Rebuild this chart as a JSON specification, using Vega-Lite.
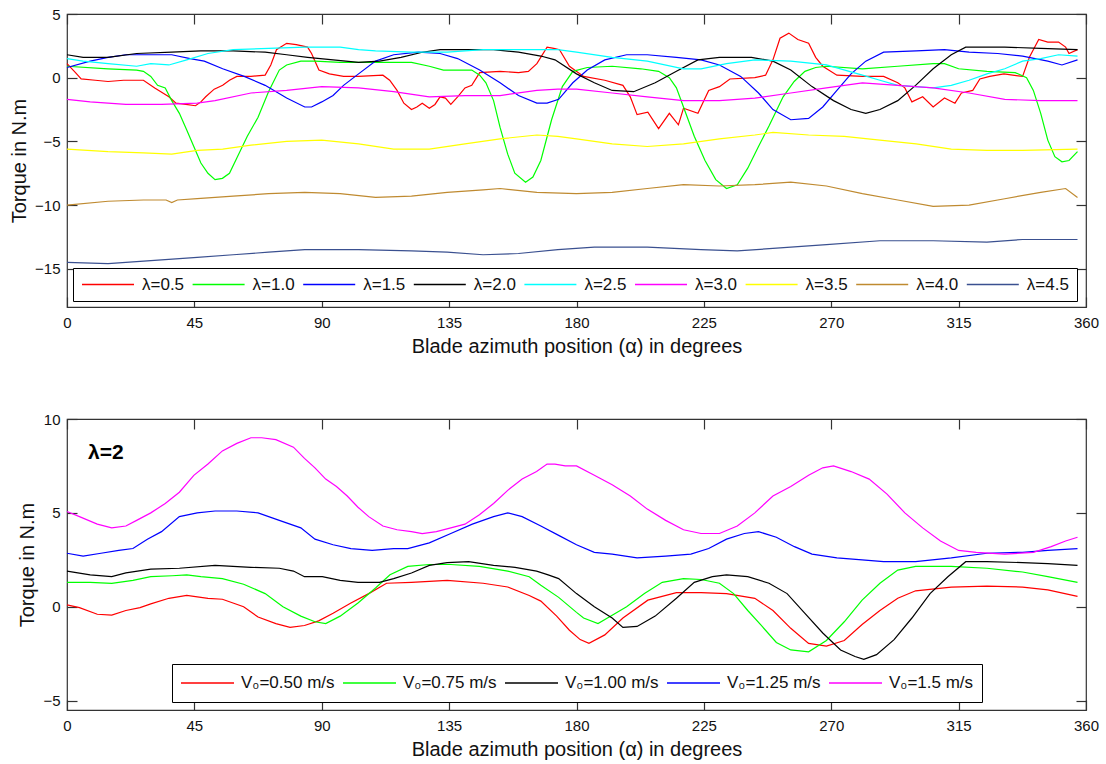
{
"$schema": "https://vega.github.io/schema/vega-lite/v6.json",
"padding": {"left": 8, "top": 6, "right": 5, "bottom": 5},
"spacing": 54,
"resolve": {"scale": {"color": "independent"}, "legend": {"color": "independent"}},
"config": {
  "font": "Liberation Sans",
  "view": {"stroke": "#333", "strokeWidth": 1.2},
  "axis": {"grid": false, "domain": false, "tickColor": "#333", "tickSize": -10, "tickWidth": 1.2,
           "labelFontSize": 15, "labelColor": "#111", "labelFont": "Liberation Sans", "labelFlush": false, "labelOverlap": false,
           "titleFontSize": 20, "titleFontWeight": "normal", "titleColor": "#111", "titleFont": "Liberation Sans"},
  "axisX": {"labelPadding": 18, "titlePadding": 6},
  "axisY": {"labelPadding": 17, "titlePadding": 5},
  "legend": {"labelFont": "Liberation Sans", "labelColor": "#111"}
},
"datasets": {
"top": [
{"series":"λ=0.5","angle":0,"torque":1.1},{"series":"λ=0.5","angle":3,"torque":0.4},{"series":"λ=0.5","angle":5,"torque":-0.1},{"series":"λ=0.5","angle":10,"torque":-0.2},{"series":"λ=0.5","angle":14.5,"torque":-0.3},{"series":"λ=0.5","angle":20,"torque":-0.2},{"series":"λ=0.5","angle":27,"torque":-0.2},{"series":"λ=0.5","angle":31,"torque":-0.8},{"series":"λ=0.5","angle":36,"torque":-1.5},{"series":"λ=0.5","angle":38.5,"torque":-2.0},{"series":"λ=0.5","angle":42,"torque":-2.1},{"series":"λ=0.5","angle":45.4,"torque":-2.2},{"series":"λ=0.5","angle":47.3,"torque":-1.9},{"series":"λ=0.5","angle":49,"torque":-1.5},{"series":"λ=0.5","angle":52,"torque":-0.9},{"series":"λ=0.5","angle":55,"torque":-0.6},{"series":"λ=0.5","angle":57.4,"torque":-0.2},{"series":"λ=0.5","angle":60,"torque":0.1},{"series":"λ=0.5","angle":65,"torque":0.1},{"series":"λ=0.5","angle":70,"torque":0.2},{"series":"λ=0.5","angle":72,"torque":1.0},{"series":"λ=0.5","angle":74,"torque":2.2},{"series":"λ=0.5","angle":77.6,"torque":2.7},{"series":"λ=0.5","angle":81,"torque":2.6},{"series":"λ=0.5","angle":85,"torque":2.4},{"series":"λ=0.5","angle":86.4,"torque":1.9},{"series":"λ=0.5","angle":89,"torque":0.6},{"series":"λ=0.5","angle":92.7,"torque":0.3},{"series":"λ=0.5","angle":97.7,"torque":0.1},{"series":"λ=0.5","angle":103,"torque":0.1},{"series":"λ=0.5","angle":111.6,"torque":0.2},{"series":"λ=0.5","angle":114,"torque":-0.2},{"series":"λ=0.5","angle":116.6,"torque":-1.0},{"series":"λ=0.5","angle":119,"torque":-2.0},{"series":"λ=0.5","angle":121.7,"torque":-2.5},{"series":"λ=0.5","angle":123.6,"torque":-2.3},{"series":"λ=0.5","angle":125.5,"torque":-2.0},{"series":"λ=0.5","angle":128,"torque":-2.4},{"series":"λ=0.5","angle":130,"torque":-2.1},{"series":"λ=0.5","angle":131.8,"torque":-1.5},{"series":"λ=0.5","angle":133.7,"torque":-1.6},{"series":"λ=0.5","angle":135.6,"torque":-2.1},{"series":"λ=0.5","angle":138,"torque":-1.5},{"series":"λ=0.5","angle":140.6,"torque":-0.8},{"series":"λ=0.5","angle":143,"torque":-0.6},{"series":"λ=0.5","angle":145.8,"torque":0.4},{"series":"λ=0.5","angle":153,"torque":0.5},{"series":"λ=0.5","angle":159.5,"torque":0.4},{"series":"λ=0.5","angle":163,"torque":0.5},{"series":"λ=0.5","angle":166,"torque":1.1},{"series":"λ=0.5","angle":169.6,"torque":2.4},{"series":"λ=0.5","angle":172,"torque":2.3},{"series":"λ=0.5","angle":174,"torque":2.2},{"series":"λ=0.5","angle":177.5,"torque":0.9},{"series":"λ=0.5","angle":182.5,"torque":0.1},{"series":"λ=0.5","angle":190,"torque":-0.2},{"series":"λ=0.5","angle":196.4,"torque":-0.6},{"series":"λ=0.5","angle":199,"torque":-1.5},{"series":"λ=0.5","angle":201.4,"torque":-2.9},{"series":"λ=0.5","angle":205.2,"torque":-2.7},{"series":"λ=0.5","angle":209,"torque":-4.0},{"series":"λ=0.5","angle":212.8,"torque":-2.8},{"series":"λ=0.5","angle":216,"torque":-3.7},{"series":"λ=0.5","angle":217.8,"torque":-2.4},{"series":"λ=0.5","angle":222.9,"torque":-2.8},{"series":"λ=0.5","angle":226.7,"torque":-1.0},{"series":"λ=0.5","angle":230.5,"torque":-0.7},{"series":"λ=0.5","angle":234.2,"torque":-0.1},{"series":"λ=0.5","angle":243,"torque":0},{"series":"λ=0.5","angle":246.8,"torque":0.2},{"series":"λ=0.5","angle":249.4,"torque":1.4},{"series":"λ=0.5","angle":251.9,"torque":3.1},{"series":"λ=0.5","angle":255,"torque":3.5},{"series":"λ=0.5","angle":258.2,"torque":3.0},{"series":"λ=0.5","angle":262,"torque":2.7},{"series":"λ=0.5","angle":264.5,"torque":1.6},{"series":"λ=0.5","angle":267,"torque":0.9},{"series":"λ=0.5","angle":272,"torque":0.2},{"series":"λ=0.5","angle":281,"torque":0.1},{"series":"λ=0.5","angle":288.5,"torque":0.1},{"series":"λ=0.5","angle":293.5,"torque":-0.4},{"series":"λ=0.5","angle":296,"torque":-0.8},{"series":"λ=0.5","angle":298.5,"torque":-1.9},{"series":"λ=0.5","angle":302.3,"torque":-1.5},{"series":"λ=0.5","angle":306,"torque":-2.3},{"series":"λ=0.5","angle":310,"torque":-1.6},{"series":"λ=0.5","angle":313.7,"torque":-2.0},{"series":"λ=0.5","angle":316,"torque":-1.2},{"series":"λ=0.5","angle":320,"torque":-1.0},{"series":"λ=0.5","angle":322.5,"torque":-0.1},{"series":"λ=0.5","angle":326,"torque":0.1},{"series":"λ=0.5","angle":331,"torque":0.3},{"series":"λ=0.5","angle":337.6,"torque":0.1},{"series":"λ=0.5","angle":340,"torque":1.6},{"series":"λ=0.5","angle":343.3,"torque":3.0},{"series":"λ=0.5","angle":346.5,"torque":2.8},{"series":"λ=0.5","angle":350.3,"torque":2.8},{"series":"λ=0.5","angle":352.8,"torque":2.4},{"series":"λ=0.5","angle":354,"torque":1.9},{"series":"λ=0.5","angle":357,"torque":2.2},
{"series":"λ=1.0","angle":0,"torque":0.9},{"series":"λ=1.0","angle":14.5,"torque":0.7},{"series":"λ=1.0","angle":24.6,"torque":0.6},{"series":"λ=1.0","angle":27,"torque":0.5},{"series":"λ=1.0","angle":29.6,"torque":0.1},{"series":"λ=1.0","angle":32,"torque":-0.6},{"series":"λ=1.0","angle":34.7,"torque":-0.8},{"series":"λ=1.0","angle":37,"torque":-1.8},{"series":"λ=1.0","angle":39.7,"torque":-2.8},{"series":"λ=1.0","angle":42.3,"torque":-4.1},{"series":"λ=1.0","angle":44.8,"torque":-5.4},{"series":"λ=1.0","angle":47.3,"torque":-6.7},{"series":"λ=1.0","angle":49.8,"torque":-7.5},{"series":"λ=1.0","angle":52.3,"torque":-8.0},{"series":"λ=1.0","angle":54.9,"torque":-7.9},{"series":"λ=1.0","angle":57.4,"torque":-7.5},{"series":"λ=1.0","angle":60,"torque":-6.3},{"series":"λ=1.0","angle":63.7,"torque":-4.6},{"series":"λ=1.0","angle":67.5,"torque":-3.1},{"series":"λ=1.0","angle":71.2,"torque":-1.1},{"series":"λ=1.0","angle":75,"torque":0.6},{"series":"λ=1.0","angle":77.6,"torque":1.0},{"series":"λ=1.0","angle":82.6,"torque":1.3},{"series":"λ=1.0","angle":87.6,"torque":1.3},{"series":"λ=1.0","angle":96.5,"torque":1.2},{"series":"λ=1.0","angle":109,"torque":1.2},{"series":"λ=1.0","angle":121.7,"torque":1.2},{"series":"λ=1.0","angle":128,"torque":0.9},{"series":"λ=1.0","angle":133,"torque":0.6},{"series":"λ=1.0","angle":143,"torque":0.6},{"series":"λ=1.0","angle":145.8,"torque":0.2},{"series":"λ=1.0","angle":148,"torque":-0.4},{"series":"λ=1.0","angle":150.7,"torque":-1.8},{"series":"λ=1.0","angle":153,"torque":-3.9},{"series":"λ=1.0","angle":155.7,"torque":-6.0},{"series":"λ=1.0","angle":158.2,"torque":-7.5},{"series":"λ=1.0","angle":162,"torque":-8.2},{"series":"λ=1.0","angle":164.6,"torque":-7.8},{"series":"λ=1.0","angle":167.4,"torque":-6.5},{"series":"λ=1.0","angle":171.2,"torque":-3.3},{"series":"λ=1.0","angle":175,"torque":-0.7},{"series":"λ=1.0","angle":178.7,"torque":0.5},{"series":"λ=1.0","angle":183.8,"torque":0.8},{"series":"λ=1.0","angle":192.6,"torque":0.9},{"series":"λ=1.0","angle":202.7,"torque":0.7},{"series":"λ=1.0","angle":209,"torque":0.5},{"series":"λ=1.0","angle":212.8,"torque":0},{"series":"λ=1.0","angle":215.3,"torque":-0.8},{"series":"λ=1.0","angle":217.8,"torque":-2.3},{"series":"λ=1.0","angle":221.6,"torque":-4.6},{"series":"λ=1.0","angle":225.4,"torque":-6.5},{"series":"λ=1.0","angle":229.2,"torque":-8.0},{"series":"λ=1.0","angle":233,"torque":-8.7},{"series":"λ=1.0","angle":236.8,"torque":-8.4},{"series":"λ=1.0","angle":240.5,"torque":-7.1},{"series":"λ=1.0","angle":244.3,"torque":-5.4},{"series":"λ=1.0","angle":248,"torque":-3.8},{"series":"λ=1.0","angle":253,"torque":-1.5},{"series":"λ=1.0","angle":256.9,"torque":-0.3},{"series":"λ=1.0","angle":260.7,"torque":0.5},{"series":"λ=1.0","angle":264.5,"torque":0.8},{"series":"λ=1.0","angle":268.3,"torque":0.9},{"series":"λ=1.0","angle":281,"torque":0.7},{"series":"λ=1.0","angle":293.5,"torque":0.9},{"series":"λ=1.0","angle":306,"torque":1.1},{"series":"λ=1.0","angle":310,"torque":1.1},{"series":"λ=1.0","angle":315,"torque":0.7},{"series":"λ=1.0","angle":325,"torque":0.5},{"series":"λ=1.0","angle":335,"torque":0.4},{"series":"λ=1.0","angle":339,"torque":0},{"series":"λ=1.0","angle":341.4,"torque":-1.0},{"series":"λ=1.0","angle":344,"torque":-2.8},{"series":"λ=1.0","angle":346.5,"torque":-4.9},{"series":"λ=1.0","angle":349,"torque":-6.2},{"series":"λ=1.0","angle":351.5,"torque":-6.6},{"series":"λ=1.0","angle":354,"torque":-6.5},{"series":"λ=1.0","angle":357,"torque":-5.8},
{"series":"λ=1.5","angle":0,"torque":0.8},{"series":"λ=1.5","angle":8.2,"torque":1.3},{"series":"λ=1.5","angle":14.5,"torque":1.6},{"series":"λ=1.5","angle":20.8,"torque":1.8},{"series":"λ=1.5","angle":29.6,"torque":1.8},{"series":"λ=1.5","angle":37,"torque":1.8},{"series":"λ=1.5","angle":43.5,"torque":1.5},{"series":"λ=1.5","angle":48.5,"torque":1.3},{"series":"λ=1.5","angle":55,"torque":0.7},{"series":"λ=1.5","angle":62.6,"torque":0.1},{"series":"λ=1.5","angle":70,"torque":-0.6},{"series":"λ=1.5","angle":77.6,"torque":-1.6},{"series":"λ=1.5","angle":84,"torque":-2.3},{"series":"λ=1.5","angle":86.4,"torque":-2.3},{"series":"λ=1.5","angle":90,"torque":-1.9},{"series":"λ=1.5","angle":94,"torque":-1.4},{"series":"λ=1.5","angle":97.7,"torque":-0.6},{"series":"λ=1.5","angle":103,"torque":0.3},{"series":"λ=1.5","angle":109,"torque":1.3},{"series":"λ=1.5","angle":115.4,"torque":1.8},{"series":"λ=1.5","angle":124.2,"torque":2.0},{"series":"λ=1.5","angle":131.8,"torque":1.9},{"series":"λ=1.5","angle":138,"torque":1.5},{"series":"λ=1.5","angle":145.8,"torque":0.6},{"series":"λ=1.5","angle":153,"torque":-0.4},{"series":"λ=1.5","angle":159.5,"torque":-1.4},{"series":"λ=1.5","angle":166,"torque":-2.0},{"series":"λ=1.5","angle":169.6,"torque":-2.0},{"series":"λ=1.5","angle":173.7,"torque":-1.7},{"series":"λ=1.5","angle":178.7,"torque":-0.4},{"series":"λ=1.5","angle":183.8,"torque":0.6},{"series":"λ=1.5","angle":190,"torque":1.4},{"series":"λ=1.5","angle":197.7,"torque":1.8},{"series":"λ=1.5","angle":205,"torque":1.8},{"series":"λ=1.5","angle":215.3,"torque":1.6},{"series":"λ=1.5","angle":224,"torque":1.4},{"series":"λ=1.5","angle":230.5,"torque":1.0},{"series":"λ=1.5","angle":238,"torque":0.1},{"series":"λ=1.5","angle":244.3,"torque":-1.2},{"series":"λ=1.5","angle":249.4,"torque":-2.5},{"series":"λ=1.5","angle":255.7,"torque":-3.3},{"series":"λ=1.5","angle":262,"torque":-3.2},{"series":"λ=1.5","angle":267,"torque":-2.3},{"series":"λ=1.5","angle":272,"torque":-1.0},{"series":"λ=1.5","angle":277,"torque":0.3},{"series":"λ=1.5","angle":282.2,"torque":1.3},{"series":"λ=1.5","angle":288.5,"torque":2.0},{"series":"λ=1.5","angle":300,"torque":2.1},{"series":"λ=1.5","angle":310,"torque":2.2},{"series":"λ=1.5","angle":318.7,"torque":2.0},{"series":"λ=1.5","angle":328.8,"torque":1.9},{"series":"λ=1.5","angle":337.6,"torque":1.7},{"series":"λ=1.5","angle":346.5,"torque":1.3},{"series":"λ=1.5","angle":351.5,"torque":1.0},{"series":"λ=1.5","angle":357,"torque":1.4},
{"series":"λ=2.0","angle":0,"torque":1.8},{"series":"λ=2.0","angle":5.7,"torque":1.6},{"series":"λ=2.0","angle":14.5,"torque":1.6},{"series":"λ=2.0","angle":24.6,"torque":1.9},{"series":"λ=2.0","angle":37,"torque":2.0},{"series":"λ=2.0","angle":47.3,"torque":2.1},{"series":"λ=2.0","angle":58.7,"torque":2.1},{"series":"λ=2.0","angle":70,"torque":2.0},{"series":"λ=2.0","angle":77.6,"torque":1.8},{"series":"λ=2.0","angle":85,"torque":1.6},{"series":"λ=2.0","angle":94,"torque":1.4},{"series":"λ=2.0","angle":103,"torque":1.2},{"series":"λ=2.0","angle":110.4,"torque":1.3},{"series":"λ=2.0","angle":118,"torque":1.6},{"series":"λ=2.0","angle":125.5,"torque":2.0},{"series":"λ=2.0","angle":131.8,"torque":2.2},{"series":"λ=2.0","angle":140.6,"torque":2.2},{"series":"λ=2.0","angle":150.7,"torque":2.2},{"series":"λ=2.0","angle":159.5,"torque":2.0},{"series":"λ=2.0","angle":167.4,"torque":1.7},{"series":"λ=2.0","angle":172.4,"torque":1.4},{"series":"λ=2.0","angle":180,"torque":0.3},{"series":"λ=2.0","angle":186.3,"torque":-0.4},{"series":"λ=2.0","angle":192.6,"torque":-1.0},{"series":"λ=2.0","angle":200.2,"torque":-1.1},{"series":"λ=2.0","angle":207.8,"torque":-0.4},{"series":"λ=2.0","angle":215.3,"torque":0.5},{"series":"λ=2.0","angle":222.9,"torque":1.4},{"series":"λ=2.0","angle":230.5,"torque":1.6},{"series":"λ=2.0","angle":241.8,"torque":1.6},{"series":"λ=2.0","angle":249.4,"torque":1.3},{"series":"λ=2.0","angle":255.7,"torque":0.6},{"series":"λ=2.0","angle":263.2,"torque":-0.7},{"series":"λ=2.0","angle":270.8,"torque":-1.8},{"series":"λ=2.0","angle":277,"torque":-2.5},{"series":"λ=2.0","angle":282.2,"torque":-2.8},{"series":"λ=2.0","angle":287.2,"torque":-2.5},{"series":"λ=2.0","angle":293.5,"torque":-1.8},{"series":"λ=2.0","angle":299.8,"torque":-0.6},{"series":"λ=2.0","angle":306,"torque":0.7},{"series":"λ=2.0","angle":312.4,"torque":1.8},{"series":"λ=2.0","angle":317.5,"torque":2.4},{"series":"λ=2.0","angle":325,"torque":2.4},{"series":"λ=2.0","angle":331.3,"torque":2.4},{"series":"λ=2.0","angle":344,"torque":2.3},{"series":"λ=2.0","angle":357,"torque":2.2},
{"series":"λ=2.5","angle":0,"torque":1.5},{"series":"λ=2.5","angle":5.7,"torque":1.3},{"series":"λ=2.5","angle":14.5,"torque":1.1},{"series":"λ=2.5","angle":24.6,"torque":0.9},{"series":"λ=2.5","angle":29.6,"torque":1.1},{"series":"λ=2.5","angle":36,"torque":1.0},{"series":"λ=2.5","angle":42.3,"torque":1.4},{"series":"λ=2.5","angle":49.8,"torque":1.9},{"series":"λ=2.5","angle":58.7,"torque":2.2},{"series":"λ=2.5","angle":71.2,"torque":2.3},{"series":"λ=2.5","angle":84,"torque":2.4},{"series":"λ=2.5","angle":96.5,"torque":2.4},{"series":"λ=2.5","angle":103,"torque":2.2},{"series":"λ=2.5","angle":109,"torque":2.1},{"series":"λ=2.5","angle":121.7,"torque":2.0},{"series":"λ=2.5","angle":134.3,"torque":2.0},{"series":"λ=2.5","angle":147,"torque":2.2},{"series":"λ=2.5","angle":159.5,"torque":2.2},{"series":"λ=2.5","angle":173.4,"torque":2.2},{"series":"λ=2.5","angle":180,"torque":2.0},{"series":"λ=2.5","angle":192.6,"torque":1.6},{"series":"λ=2.5","angle":205,"torque":1.3},{"series":"λ=2.5","angle":217.8,"torque":0.7},{"series":"λ=2.5","angle":224,"torque":0.7},{"series":"λ=2.5","angle":233,"torque":1.1},{"series":"λ=2.5","angle":243,"torque":1.4},{"series":"λ=2.5","angle":255.7,"torque":1.3},{"series":"λ=2.5","angle":268.3,"torque":1.0},{"series":"λ=2.5","angle":281,"torque":0.2},{"series":"λ=2.5","angle":287.2,"torque":-0.2},{"series":"λ=2.5","angle":293.5,"torque":-0.6},{"series":"λ=2.5","angle":306,"torque":-0.8},{"series":"λ=2.5","angle":312.4,"torque":-0.6},{"series":"λ=2.5","angle":318.7,"torque":-0.2},{"series":"λ=2.5","angle":325,"torque":0.3},{"series":"λ=2.5","angle":331.3,"torque":0.7},{"series":"λ=2.5","angle":337.6,"torque":1.3},{"series":"λ=2.5","angle":344,"torque":1.5},{"series":"λ=2.5","angle":350.3,"torque":1.8},{"series":"λ=2.5","angle":357,"torque":1.7},
{"series":"λ=3.0","angle":0,"torque":-1.7},{"series":"λ=3.0","angle":8.2,"torque":-1.9},{"series":"λ=3.0","angle":20.8,"torque":-2.1},{"series":"λ=3.0","angle":33.4,"torque":-2.1},{"series":"λ=3.0","angle":46,"torque":-2.0},{"series":"λ=3.0","angle":52.3,"torque":-1.8},{"series":"λ=3.0","angle":65,"torque":-1.2},{"series":"λ=3.0","angle":77.6,"torque":-1.0},{"series":"λ=3.0","angle":90,"torque":-0.7},{"series":"λ=3.0","angle":103,"torque":-0.8},{"series":"λ=3.0","angle":115.4,"torque":-1.1},{"series":"λ=3.0","angle":128,"torque":-1.5},{"series":"λ=3.0","angle":140.6,"torque":-1.4},{"series":"λ=3.0","angle":153,"torque":-1.4},{"series":"λ=3.0","angle":166,"torque":-1.0},{"series":"λ=3.0","angle":173.4,"torque":-0.9},{"series":"λ=3.0","angle":180,"torque":-0.9},{"series":"λ=3.0","angle":192.6,"torque":-1.2},{"series":"λ=3.0","angle":205,"torque":-1.5},{"series":"λ=3.0","angle":217.8,"torque":-1.8},{"series":"λ=3.0","angle":230.5,"torque":-1.8},{"series":"λ=3.0","angle":243,"torque":-1.6},{"series":"λ=3.0","angle":255.7,"torque":-1.2},{"series":"λ=3.0","angle":268.3,"torque":-0.8},{"series":"λ=3.0","angle":281,"torque":-0.4},{"series":"λ=3.0","angle":293.5,"torque":-0.6},{"series":"λ=3.0","angle":306,"torque":-0.8},{"series":"λ=3.0","angle":318.7,"torque":-1.2},{"series":"λ=3.0","angle":331.3,"torque":-1.7},{"series":"λ=3.0","angle":344,"torque":-1.8},{"series":"λ=3.0","angle":357,"torque":-1.8},
{"series":"λ=3.5","angle":0,"torque":-5.6},{"series":"λ=3.5","angle":14.5,"torque":-5.8},{"series":"λ=3.5","angle":27,"torque":-5.9},{"series":"λ=3.5","angle":37,"torque":-6.0},{"series":"λ=3.5","angle":46,"torque":-5.7},{"series":"λ=3.5","angle":55,"torque":-5.6},{"series":"λ=3.5","angle":65,"torque":-5.3},{"series":"λ=3.5","angle":77.6,"torque":-5.0},{"series":"λ=3.5","angle":90,"torque":-4.9},{"series":"λ=3.5","angle":103,"torque":-5.2},{"series":"λ=3.5","angle":115.4,"torque":-5.6},{"series":"λ=3.5","angle":128,"torque":-5.6},{"series":"λ=3.5","angle":140.6,"torque":-5.2},{"series":"λ=3.5","angle":153,"torque":-4.8},{"series":"λ=3.5","angle":166,"torque":-4.5},{"series":"λ=3.5","angle":173.4,"torque":-4.6},{"series":"λ=3.5","angle":180,"torque":-4.8},{"series":"λ=3.5","angle":192.6,"torque":-5.2},{"series":"λ=3.5","angle":205,"torque":-5.4},{"series":"λ=3.5","angle":217.8,"torque":-5.2},{"series":"λ=3.5","angle":230.5,"torque":-4.8},{"series":"λ=3.5","angle":243,"torque":-4.5},{"series":"λ=3.5","angle":249.4,"torque":-4.3},{"series":"λ=3.5","angle":262,"torque":-4.5},{"series":"λ=3.5","angle":274.6,"torque":-4.6},{"series":"λ=3.5","angle":287.2,"torque":-4.9},{"series":"λ=3.5","angle":300,"torque":-5.2},{"series":"λ=3.5","angle":312.4,"torque":-5.6},{"series":"λ=3.5","angle":325,"torque":-5.7},{"series":"λ=3.5","angle":337.6,"torque":-5.7},{"series":"λ=3.5","angle":357,"torque":-5.6},
{"series":"λ=4.0","angle":0,"torque":-10.0},{"series":"λ=4.0","angle":14.5,"torque":-9.7},{"series":"λ=4.0","angle":27,"torque":-9.6},{"series":"λ=4.0","angle":35,"torque":-9.6},{"series":"λ=4.0","angle":37,"torque":-9.8},{"series":"λ=4.0","angle":39,"torque":-9.6},{"series":"λ=4.0","angle":46,"torque":-9.5},{"series":"λ=4.0","angle":58.7,"torque":-9.3},{"series":"λ=4.0","angle":71.2,"torque":-9.1},{"series":"λ=4.0","angle":84,"torque":-9.0},{"series":"λ=4.0","angle":96.5,"torque":-9.1},{"series":"λ=4.0","angle":109,"torque":-9.4},{"series":"λ=4.0","angle":121.7,"torque":-9.3},{"series":"λ=4.0","angle":134.3,"torque":-9.0},{"series":"λ=4.0","angle":147,"torque":-8.8},{"series":"λ=4.0","angle":153,"torque":-8.7},{"series":"λ=4.0","angle":166,"torque":-9.0},{"series":"λ=4.0","angle":180,"torque":-9.1},{"series":"λ=4.0","angle":192.6,"torque":-9.0},{"series":"λ=4.0","angle":205,"torque":-8.7},{"series":"λ=4.0","angle":217.8,"torque":-8.4},{"series":"λ=4.0","angle":230.5,"torque":-8.5},{"series":"λ=4.0","angle":243,"torque":-8.4},{"series":"λ=4.0","angle":255.7,"torque":-8.2},{"series":"λ=4.0","angle":268.3,"torque":-8.5},{"series":"λ=4.0","angle":281,"torque":-9.1},{"series":"λ=4.0","angle":293.5,"torque":-9.6},{"series":"λ=4.0","angle":306,"torque":-10.1},{"series":"λ=4.0","angle":318.7,"torque":-10.0},{"series":"λ=4.0","angle":331.3,"torque":-9.5},{"series":"λ=4.0","angle":344,"torque":-9.0},{"series":"λ=4.0","angle":352.8,"torque":-8.7},{"series":"λ=4.0","angle":357,"torque":-9.4},
{"series":"λ=4.5","angle":0,"torque":-14.5},{"series":"λ=4.5","angle":14.5,"torque":-14.6},{"series":"λ=4.5","angle":33.4,"torque":-14.3},{"series":"λ=4.5","angle":46,"torque":-14.1},{"series":"λ=4.5","angle":58.7,"torque":-13.9},{"series":"λ=4.5","angle":71.2,"torque":-13.7},{"series":"λ=4.5","angle":84,"torque":-13.5},{"series":"λ=4.5","angle":103,"torque":-13.5},{"series":"λ=4.5","angle":121.7,"torque":-13.6},{"series":"λ=4.5","angle":134.3,"torque":-13.7},{"series":"λ=4.5","angle":147,"torque":-13.9},{"series":"λ=4.5","angle":159.5,"torque":-13.8},{"series":"λ=4.5","angle":173.4,"torque":-13.5},{"series":"λ=4.5","angle":186.3,"torque":-13.3},{"series":"λ=4.5","angle":205,"torque":-13.3},{"series":"λ=4.5","angle":224,"torque":-13.5},{"series":"λ=4.5","angle":236.8,"torque":-13.6},{"series":"λ=4.5","angle":249.4,"torque":-13.4},{"series":"λ=4.5","angle":268.3,"torque":-13.1},{"series":"λ=4.5","angle":287.2,"torque":-12.8},{"series":"λ=4.5","angle":306,"torque":-12.8},{"series":"λ=4.5","angle":325,"torque":-12.9},{"series":"λ=4.5","angle":337.6,"torque":-12.7},{"series":"λ=4.5","angle":357,"torque":-12.7}
],
"bottom": [
{"series":"V₀=0.50 m/s","angle":0,"torque":0.1},{"series":"V₀=0.50 m/s","angle":4.4,"torque":-0.05},{"series":"V₀=0.50 m/s","angle":10.7,"torque":-0.4},{"series":"V₀=0.50 m/s","angle":15.8,"torque":-0.45},{"series":"V₀=0.50 m/s","angle":20.8,"torque":-0.2},{"series":"V₀=0.50 m/s","angle":25.8,"torque":-0.05},{"series":"V₀=0.50 m/s","angle":29.6,"torque":0.15},{"series":"V₀=0.50 m/s","angle":36,"torque":0.45},{"series":"V₀=0.50 m/s","angle":42.3,"torque":0.6},{"series":"V₀=0.50 m/s","angle":49.8,"torque":0.45},{"series":"V₀=0.50 m/s","angle":54.9,"torque":0.4},{"series":"V₀=0.50 m/s","angle":62.4,"torque":0},{"series":"V₀=0.50 m/s","angle":67.5,"torque":-0.55},{"series":"V₀=0.50 m/s","angle":73.8,"torque":-0.9},{"series":"V₀=0.50 m/s","angle":78.8,"torque":-1.1},{"series":"V₀=0.50 m/s","angle":83.9,"torque":-1.0},{"series":"V₀=0.50 m/s","angle":88.9,"torque":-0.75},{"series":"V₀=0.50 m/s","angle":94,"torque":-0.35},{"series":"V₀=0.50 m/s","angle":100.3,"torque":0.2},{"series":"V₀=0.50 m/s","angle":106.6,"torque":0.7},{"series":"V₀=0.50 m/s","angle":112.9,"torque":1.25},{"series":"V₀=0.50 m/s","angle":121.7,"torque":1.3},{"series":"V₀=0.50 m/s","angle":134.3,"torque":1.4},{"series":"V₀=0.50 m/s","angle":147,"torque":1.25},{"series":"V₀=0.50 m/s","angle":155.7,"torque":1.05},{"series":"V₀=0.50 m/s","angle":163.3,"torque":0.6},{"series":"V₀=0.50 m/s","angle":167.4,"torque":0.3},{"series":"V₀=0.50 m/s","angle":173,"torque":-0.5},{"series":"V₀=0.50 m/s","angle":177.5,"torque":-1.25},{"series":"V₀=0.50 m/s","angle":181.3,"torque":-1.75},{"series":"V₀=0.50 m/s","angle":184.4,"torque":-1.95},{"series":"V₀=0.50 m/s","angle":190,"torque":-1.5},{"series":"V₀=0.50 m/s","angle":196.4,"torque":-0.6},{"series":"V₀=0.50 m/s","angle":205.2,"torque":0.35},{"series":"V₀=0.50 m/s","angle":215.3,"torque":0.75},{"series":"V₀=0.50 m/s","angle":224,"torque":0.75},{"series":"V₀=0.50 m/s","angle":233,"torque":0.7},{"series":"V₀=0.50 m/s","angle":243,"torque":0.45},{"series":"V₀=0.50 m/s","angle":249.4,"torque":-0.2},{"series":"V₀=0.50 m/s","angle":255.7,"torque":-1.15},{"series":"V₀=0.50 m/s","angle":262,"torque":-1.95},{"series":"V₀=0.50 m/s","angle":268.3,"torque":-2.1},{"series":"V₀=0.50 m/s","angle":274.6,"torque":-1.8},{"series":"V₀=0.50 m/s","angle":280.9,"torque":-0.95},{"series":"V₀=0.50 m/s","angle":287.2,"torque":-0.2},{"series":"V₀=0.50 m/s","angle":293.5,"torque":0.45},{"series":"V₀=0.50 m/s","angle":299.8,"torque":0.85},{"series":"V₀=0.50 m/s","angle":312.4,"torque":1.05},{"series":"V₀=0.50 m/s","angle":325,"torque":1.1},{"series":"V₀=0.50 m/s","angle":337.6,"torque":1.05},{"series":"V₀=0.50 m/s","angle":346.5,"torque":0.9},{"series":"V₀=0.50 m/s","angle":357,"torque":0.55},
{"series":"V₀=0.75 m/s","angle":0,"torque":1.3},{"series":"V₀=0.75 m/s","angle":8.2,"torque":1.3},{"series":"V₀=0.75 m/s","angle":15.8,"torque":1.25},{"series":"V₀=0.75 m/s","angle":23.3,"torque":1.4},{"series":"V₀=0.75 m/s","angle":29.6,"torque":1.6},{"series":"V₀=0.75 m/s","angle":37.2,"torque":1.65},{"series":"V₀=0.75 m/s","angle":42.3,"torque":1.7},{"series":"V₀=0.75 m/s","angle":47.3,"torque":1.6},{"series":"V₀=0.75 m/s","angle":54.9,"torque":1.5},{"series":"V₀=0.75 m/s","angle":62.4,"torque":1.2},{"series":"V₀=0.75 m/s","angle":70,"torque":0.7},{"series":"V₀=0.75 m/s","angle":76.3,"torque":0},{"series":"V₀=0.75 m/s","angle":82.6,"torque":-0.5},{"series":"V₀=0.75 m/s","angle":87.6,"torque":-0.8},{"series":"V₀=0.75 m/s","angle":91.4,"torque":-0.9},{"series":"V₀=0.75 m/s","angle":96.5,"torque":-0.5},{"series":"V₀=0.75 m/s","angle":102.8,"torque":0.2},{"series":"V₀=0.75 m/s","angle":109,"torque":1.0},{"series":"V₀=0.75 m/s","angle":114.1,"torque":1.7},{"series":"V₀=0.75 m/s","angle":120.4,"torque":2.15},{"series":"V₀=0.75 m/s","angle":128,"torque":2.25},{"series":"V₀=0.75 m/s","angle":135.6,"torque":2.25},{"series":"V₀=0.75 m/s","angle":145.7,"torque":2.15},{"series":"V₀=0.75 m/s","angle":155.7,"torque":1.9},{"series":"V₀=0.75 m/s","angle":163.3,"torque":1.6},{"series":"V₀=0.75 m/s","angle":167.4,"torque":1.15},{"series":"V₀=0.75 m/s","angle":173.7,"torque":0.5},{"series":"V₀=0.75 m/s","angle":180,"torque":-0.3},{"series":"V₀=0.75 m/s","angle":182.5,"torque":-0.6},{"series":"V₀=0.75 m/s","angle":187.6,"torque":-0.9},{"series":"V₀=0.75 m/s","angle":192.6,"torque":-0.45},{"series":"V₀=0.75 m/s","angle":197.7,"torque":0},{"series":"V₀=0.75 m/s","angle":204,"torque":0.7},{"series":"V₀=0.75 m/s","angle":210.3,"torque":1.3},{"series":"V₀=0.75 m/s","angle":217.8,"torque":1.5},{"series":"V₀=0.75 m/s","angle":224,"torque":1.45},{"series":"V₀=0.75 m/s","angle":230.5,"torque":1.25},{"series":"V₀=0.75 m/s","angle":235.5,"torque":0.7},{"series":"V₀=0.75 m/s","angle":240.5,"torque":-0.2},{"series":"V₀=0.75 m/s","angle":245.6,"torque":-1.05},{"series":"V₀=0.75 m/s","angle":250.6,"torque":-1.9},{"series":"V₀=0.75 m/s","angle":255.7,"torque":-2.3},{"series":"V₀=0.75 m/s","angle":262,"torque":-2.4},{"series":"V₀=0.75 m/s","angle":268.3,"torque":-1.8},{"series":"V₀=0.75 m/s","angle":274.6,"torque":-0.8},{"series":"V₀=0.75 m/s","angle":280.9,"torque":0.35},{"series":"V₀=0.75 m/s","angle":287.2,"torque":1.25},{"series":"V₀=0.75 m/s","angle":293.5,"torque":1.95},{"series":"V₀=0.75 m/s","angle":299.8,"torque":2.15},{"series":"V₀=0.75 m/s","angle":312.4,"torque":2.15},{"series":"V₀=0.75 m/s","angle":325,"torque":2.05},{"series":"V₀=0.75 m/s","angle":337.6,"torque":1.85},{"series":"V₀=0.75 m/s","angle":346.5,"torque":1.6},{"series":"V₀=0.75 m/s","angle":357,"torque":1.3},
{"series":"V₀=1.00 m/s","angle":0,"torque":1.9},{"series":"V₀=1.00 m/s","angle":8.2,"torque":1.7},{"series":"V₀=1.00 m/s","angle":15.8,"torque":1.6},{"series":"V₀=1.00 m/s","angle":20.8,"torque":1.8},{"series":"V₀=1.00 m/s","angle":29.6,"torque":2.0},{"series":"V₀=1.00 m/s","angle":39.7,"torque":2.05},{"series":"V₀=1.00 m/s","angle":52.3,"torque":2.2},{"series":"V₀=1.00 m/s","angle":65,"torque":2.1},{"series":"V₀=1.00 m/s","angle":75,"torque":2.05},{"series":"V₀=1.00 m/s","angle":80,"torque":1.9},{"series":"V₀=1.00 m/s","angle":83.9,"torque":1.6},{"series":"V₀=1.00 m/s","angle":90.2,"torque":1.6},{"series":"V₀=1.00 m/s","angle":96.5,"torque":1.4},{"series":"V₀=1.00 m/s","angle":102.8,"torque":1.3},{"series":"V₀=1.00 m/s","angle":110.4,"torque":1.3},{"series":"V₀=1.00 m/s","angle":115.4,"torque":1.5},{"series":"V₀=1.00 m/s","angle":121.7,"torque":1.8},{"series":"V₀=1.00 m/s","angle":128,"torque":2.2},{"series":"V₀=1.00 m/s","angle":134.3,"torque":2.35},{"series":"V₀=1.00 m/s","angle":141.9,"torque":2.4},{"series":"V₀=1.00 m/s","angle":150.7,"torque":2.2},{"series":"V₀=1.00 m/s","angle":158.3,"torque":2.1},{"series":"V₀=1.00 m/s","angle":165.9,"torque":1.9},{"series":"V₀=1.00 m/s","angle":170,"torque":1.7},{"series":"V₀=1.00 m/s","angle":173.7,"torque":1.5},{"series":"V₀=1.00 m/s","angle":180,"torque":0.7},{"series":"V₀=1.00 m/s","angle":186.3,"torque":0},{"series":"V₀=1.00 m/s","angle":192.6,"torque":-0.6},{"series":"V₀=1.00 m/s","angle":196.4,"torque":-1.1},{"series":"V₀=1.00 m/s","angle":201.4,"torque":-1.05},{"series":"V₀=1.00 m/s","angle":207.8,"torque":-0.5},{"series":"V₀=1.00 m/s","angle":215.3,"torque":0.45},{"series":"V₀=1.00 m/s","angle":221.6,"torque":1.3},{"series":"V₀=1.00 m/s","angle":228,"torque":1.6},{"series":"V₀=1.00 m/s","angle":233,"torque":1.7},{"series":"V₀=1.00 m/s","angle":240.5,"torque":1.6},{"series":"V₀=1.00 m/s","angle":248,"torque":1.25},{"series":"V₀=1.00 m/s","angle":254.4,"torque":0.7},{"series":"V₀=1.00 m/s","angle":260.7,"torque":-0.35},{"series":"V₀=1.00 m/s","angle":267,"torque":-1.4},{"series":"V₀=1.00 m/s","angle":273.3,"torque":-2.3},{"series":"V₀=1.00 m/s","angle":278.4,"torque":-2.65},{"series":"V₀=1.00 m/s","angle":281.5,"torque":-2.8},{"series":"V₀=1.00 m/s","angle":286,"torque":-2.55},{"series":"V₀=1.00 m/s","angle":292.2,"torque":-1.75},{"series":"V₀=1.00 m/s","angle":298.5,"torque":-0.6},{"series":"V₀=1.00 m/s","angle":304.9,"torque":0.7},{"series":"V₀=1.00 m/s","angle":311.2,"torque":1.6},{"series":"V₀=1.00 m/s","angle":317.5,"torque":2.4},{"series":"V₀=1.00 m/s","angle":325,"torque":2.4},{"series":"V₀=1.00 m/s","angle":337.6,"torque":2.35},{"series":"V₀=1.00 m/s","angle":346.5,"torque":2.3},{"series":"V₀=1.00 m/s","angle":357,"torque":2.2},
{"series":"V₀=1.25 m/s","angle":0,"torque":2.85},{"series":"V₀=1.25 m/s","angle":5.7,"torque":2.7},{"series":"V₀=1.25 m/s","angle":12,"torque":2.85},{"series":"V₀=1.25 m/s","angle":18.3,"torque":3.0},{"series":"V₀=1.25 m/s","angle":23.3,"torque":3.1},{"series":"V₀=1.25 m/s","angle":28.4,"torque":3.6},{"series":"V₀=1.25 m/s","angle":33.4,"torque":4.0},{"series":"V₀=1.25 m/s","angle":39.7,"torque":4.8},{"series":"V₀=1.25 m/s","angle":46,"torque":5.0},{"series":"V₀=1.25 m/s","angle":52.3,"torque":5.1},{"series":"V₀=1.25 m/s","angle":60,"torque":5.1},{"series":"V₀=1.25 m/s","angle":67.5,"torque":5.0},{"series":"V₀=1.25 m/s","angle":75,"torque":4.6},{"series":"V₀=1.25 m/s","angle":82.6,"torque":4.2},{"series":"V₀=1.25 m/s","angle":87.6,"torque":3.6},{"series":"V₀=1.25 m/s","angle":94,"torque":3.3},{"series":"V₀=1.25 m/s","angle":100.3,"torque":3.1},{"series":"V₀=1.25 m/s","angle":107.8,"torque":3.0},{"series":"V₀=1.25 m/s","angle":115.4,"torque":3.1},{"series":"V₀=1.25 m/s","angle":120.4,"torque":3.1},{"series":"V₀=1.25 m/s","angle":128,"torque":3.4},{"series":"V₀=1.25 m/s","angle":135.6,"torque":3.9},{"series":"V₀=1.25 m/s","angle":143.2,"torque":4.4},{"series":"V₀=1.25 m/s","angle":150.7,"torque":4.8},{"series":"V₀=1.25 m/s","angle":155.7,"torque":5.0},{"series":"V₀=1.25 m/s","angle":160.8,"torque":4.8},{"series":"V₀=1.25 m/s","angle":167.4,"torque":4.3},{"series":"V₀=1.25 m/s","angle":173.7,"torque":3.8},{"series":"V₀=1.25 m/s","angle":180,"torque":3.3},{"series":"V₀=1.25 m/s","angle":186.3,"torque":2.9},{"series":"V₀=1.25 m/s","angle":192.6,"torque":2.8},{"series":"V₀=1.25 m/s","angle":201.4,"torque":2.6},{"series":"V₀=1.25 m/s","angle":211.5,"torque":2.7},{"series":"V₀=1.25 m/s","angle":220.4,"torque":2.8},{"series":"V₀=1.25 m/s","angle":226.7,"torque":3.1},{"series":"V₀=1.25 m/s","angle":233,"torque":3.6},{"series":"V₀=1.25 m/s","angle":239.3,"torque":3.9},{"series":"V₀=1.25 m/s","angle":244.3,"torque":4.0},{"series":"V₀=1.25 m/s","angle":250.6,"torque":3.7},{"series":"V₀=1.25 m/s","angle":257,"torque":3.2},{"series":"V₀=1.25 m/s","angle":263.2,"torque":2.8},{"series":"V₀=1.25 m/s","angle":272,"torque":2.6},{"series":"V₀=1.25 m/s","angle":280.9,"torque":2.5},{"series":"V₀=1.25 m/s","angle":288.5,"torque":2.4},{"series":"V₀=1.25 m/s","angle":299.8,"torque":2.4},{"series":"V₀=1.25 m/s","angle":312.4,"torque":2.6},{"series":"V₀=1.25 m/s","angle":325,"torque":2.85},{"series":"V₀=1.25 m/s","angle":337.6,"torque":2.9},{"series":"V₀=1.25 m/s","angle":346.5,"torque":3.0},{"series":"V₀=1.25 m/s","angle":357,"torque":3.1},
{"series":"V₀=1.5 m/s","angle":0,"torque":5.07},{"series":"V₀=1.5 m/s","angle":4.4,"torque":4.8},{"series":"V₀=1.5 m/s","angle":10.7,"torque":4.4},{"series":"V₀=1.5 m/s","angle":15.8,"torque":4.2},{"series":"V₀=1.5 m/s","angle":20.8,"torque":4.3},{"series":"V₀=1.5 m/s","angle":24.6,"torque":4.6},{"series":"V₀=1.5 m/s","angle":29.6,"torque":5.0},{"series":"V₀=1.5 m/s","angle":34.7,"torque":5.5},{"series":"V₀=1.5 m/s","angle":39.7,"torque":6.1},{"series":"V₀=1.5 m/s","angle":44.8,"torque":7.0},{"series":"V₀=1.5 m/s","angle":49.8,"torque":7.6},{"series":"V₀=1.5 m/s","angle":54.9,"torque":8.3},{"series":"V₀=1.5 m/s","angle":60,"torque":8.7},{"series":"V₀=1.5 m/s","angle":65,"torque":9.0},{"series":"V₀=1.5 m/s","angle":68.8,"torque":9.0},{"series":"V₀=1.5 m/s","angle":73.8,"torque":8.9},{"series":"V₀=1.5 m/s","angle":80,"torque":8.5},{"series":"V₀=1.5 m/s","angle":83.9,"torque":7.9},{"series":"V₀=1.5 m/s","angle":87.6,"torque":7.4},{"series":"V₀=1.5 m/s","angle":91.4,"torque":6.8},{"series":"V₀=1.5 m/s","angle":95.2,"torque":6.4},{"series":"V₀=1.5 m/s","angle":99,"torque":5.9},{"series":"V₀=1.5 m/s","angle":102.8,"torque":5.3},{"series":"V₀=1.5 m/s","angle":106.6,"torque":4.8},{"series":"V₀=1.5 m/s","angle":111.6,"torque":4.3},{"series":"V₀=1.5 m/s","angle":116.6,"torque":4.1},{"series":"V₀=1.5 m/s","angle":121.7,"torque":4.0},{"series":"V₀=1.5 m/s","angle":125.5,"torque":3.9},{"series":"V₀=1.5 m/s","angle":130.5,"torque":4.0},{"series":"V₀=1.5 m/s","angle":135.6,"torque":4.2},{"series":"V₀=1.5 m/s","angle":140.6,"torque":4.4},{"series":"V₀=1.5 m/s","angle":145.7,"torque":4.9},{"series":"V₀=1.5 m/s","angle":150.7,"torque":5.5},{"series":"V₀=1.5 m/s","angle":155.7,"torque":6.2},{"series":"V₀=1.5 m/s","angle":160.8,"torque":6.8},{"series":"V₀=1.5 m/s","angle":165.9,"torque":7.2},{"series":"V₀=1.5 m/s","angle":169.6,"torque":7.6},{"series":"V₀=1.5 m/s","angle":172.4,"torque":7.6},{"series":"V₀=1.5 m/s","angle":176,"torque":7.5},{"series":"V₀=1.5 m/s","angle":180,"torque":7.5},{"series":"V₀=1.5 m/s","angle":186.3,"torque":7.0},{"series":"V₀=1.5 m/s","angle":192.6,"torque":6.5},{"series":"V₀=1.5 m/s","angle":199,"torque":5.9},{"series":"V₀=1.5 m/s","angle":205,"torque":5.2},{"series":"V₀=1.5 m/s","angle":211.5,"torque":4.6},{"series":"V₀=1.5 m/s","angle":217.8,"torque":4.1},{"series":"V₀=1.5 m/s","angle":224,"torque":3.9},{"series":"V₀=1.5 m/s","angle":230.5,"torque":3.9},{"series":"V₀=1.5 m/s","angle":236.8,"torque":4.3},{"series":"V₀=1.5 m/s","angle":243,"torque":5.0},{"series":"V₀=1.5 m/s","angle":249.4,"torque":5.9},{"series":"V₀=1.5 m/s","angle":255.7,"torque":6.4},{"series":"V₀=1.5 m/s","angle":262,"torque":7.0},{"series":"V₀=1.5 m/s","angle":267,"torque":7.4},{"series":"V₀=1.5 m/s","angle":270.8,"torque":7.5},{"series":"V₀=1.5 m/s","angle":277,"torque":7.2},{"series":"V₀=1.5 m/s","angle":283.4,"torque":6.8},{"series":"V₀=1.5 m/s","angle":289.7,"torque":6.0},{"series":"V₀=1.5 m/s","angle":296,"torque":5.0},{"series":"V₀=1.5 m/s","angle":302.3,"torque":4.2},{"series":"V₀=1.5 m/s","angle":308.6,"torque":3.5},{"series":"V₀=1.5 m/s","angle":315,"torque":3.0},{"series":"V₀=1.5 m/s","angle":321.2,"torque":2.9},{"series":"V₀=1.5 m/s","angle":331.3,"torque":2.8},{"series":"V₀=1.5 m/s","angle":341.4,"torque":2.9},{"series":"V₀=1.5 m/s","angle":347.7,"torque":3.2},{"series":"V₀=1.5 m/s","angle":352.8,"torque":3.5},{"series":"V₀=1.5 m/s","angle":357,"torque":3.7}
],
"note": [{"angle": 7.4, "torque": 8.2, "label": "λ=2"}]
},
"vconcat": [
{
  "width": 1019, "height": 293,
  "data": {"name": "top"},
  "resolve": {"axis": {"x": "independent", "y": "independent"}},
  "layer": [
    {
      "mark": {"type": "line", "strokeWidth": 1.2},
      "encoding": {
        "x": {"field": "angle", "type": "quantitative", "scale": {"domain": [0, 360], "nice": false},
              "axis": {"values": [0,45,90,135,180,225,270,315,360], "title": "Blade azimuth position (α) in degrees"}},
        "y": {"field": "torque", "type": "quantitative", "scale": {"domain": [-18, 5], "nice": false, "zero": false},
              "axis": {"values": [5,0,-5,-10,-15], "title": "Torque in N.m"}},
        "color": {"field": "series", "type": "nominal",
          "scale": {"domain": ["λ=0.5","λ=1.0","λ=1.5","λ=2.0","λ=2.5","λ=3.0","λ=3.5","λ=4.0","λ=4.5"],
                    "range": ["#FF0000","#00FF00","#0000FF","#000000","#00FFFF","#FF00FF","#FFFF00","#BF8A30","#3A5090"]},
          "legend": {"orient": "bottom-left", "offset": 6, "direction": "horizontal", "columns": 9, "title": null,
                     "strokeColor": "#000", "fillColor": "#fff", "padding": 8, "symbolType": "stroke", "symbolSize": 2704,
                     "symbolStrokeWidth": 1.5, "labelFontSize": 17, "labelOffset": 7, "columnPadding": 6.6, "clipHeight": 17}}
      }
    },
    {
      "mark": {"type": "point", "opacity": 0},
      "encoding": {
        "x": {"field": "angle", "type": "quantitative", "scale": {"domain": [0, 360], "nice": false},
              "axis": {"orient": "top", "labels": false, "title": null, "values": [0,45,90,135,180,225,270,315,360]}},
        "y": {"field": "torque", "type": "quantitative", "scale": {"domain": [-18, 5], "nice": false, "zero": false},
              "axis": {"orient": "right", "labels": false, "title": null, "values": [5,0,-5,-10,-15]}}
      }
    }
  ]
},
{
  "width": 1019, "height": 291,
  "resolve": {"axis": {"x": "independent", "y": "independent"}},
  "layer": [
    {
      "data": {"name": "bottom"},
      "mark": {"type": "line", "strokeWidth": 1.2},
      "encoding": {
        "x": {"field": "angle", "type": "quantitative", "scale": {"domain": [0, 360], "nice": false},
              "axis": {"values": [0,45,90,135,180,225,270,315,360], "title": "Blade azimuth position (α) in degrees"}},
        "y": {"field": "torque", "type": "quantitative", "scale": {"domain": [-5.5, 10], "nice": false, "zero": false},
              "axis": {"values": [10,5,0,-5], "title": "Torque in N.m"}},
        "color": {"field": "series", "type": "nominal",
          "scale": {"domain": ["V₀=0.50 m/s","V₀=0.75 m/s","V₀=1.00 m/s","V₀=1.25 m/s","V₀=1.5 m/s"],
                    "range": ["#FF0000","#00FF00","#000000","#0000FF","#FF00FF"]},
          "legend": {"orient": "none", "legendX": 105, "legendY": 245, "direction": "horizontal", "columns": 5, "title": null,
                     "strokeColor": "#000", "fillColor": "#fff", "padding": 8, "symbolType": "stroke", "symbolSize": 2809,
                     "symbolStrokeWidth": 1.5, "labelFontSize": 17, "labelOffset": 6, "columnPadding": 7, "clipHeight": 22}}
      }
    },
    {
      "data": {"name": "note"},
      "mark": {"type": "text", "align": "left", "baseline": "middle", "fontSize": 21, "fontWeight": "bold", "color": "#000"},
      "encoding": {
        "x": {"field": "angle", "type": "quantitative", "scale": {"domain": [0, 360], "nice": false},
              "axis": {"orient": "top", "labels": false, "title": null, "values": [0,45,90,135,180,225,270,315,360]}},
        "y": {"field": "torque", "type": "quantitative", "scale": {"domain": [-5.5, 10], "nice": false, "zero": false},
              "axis": {"orient": "right", "labels": false, "title": null, "values": [10,5,0,-5]}},
        "text": {"field": "label"}
      }
    }
  ]
}
]
}
